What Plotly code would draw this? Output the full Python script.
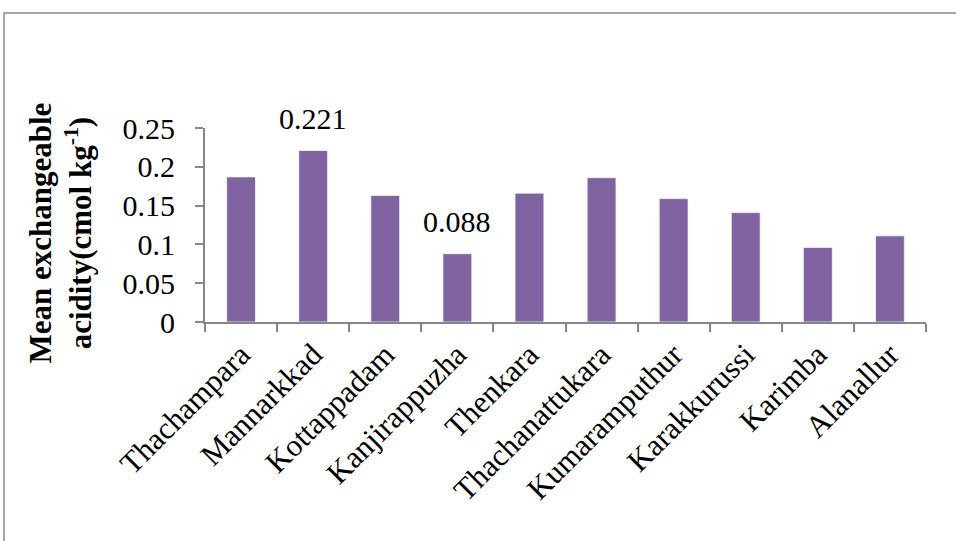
import plotly.graph_objects as go

categories = ["Thachampara", "Mannarkkad", "Kottappadam", "Kanjirappuzha", "Thenkara",
              "Thachanattukara", "Kumaramputhur", "Karakkurussi", "Karimba", "Alanallur"]
values = [0.187, 0.221, 0.163, 0.088, 0.166, 0.186, 0.159, 0.141, 0.096, 0.111]
labelled = ["Mannarkkad", "Kanjirappuzha"]
y_title = "<b>Mean exchangeable<br>acidity(cmol kg<sup>-1</sup>)</b>"

FONT = "Liberation Serif"
AXIS_COLOR = "#868686"

fig = go.Figure()
fig.add_trace(go.Bar(
    x=categories, y=values, width=0.4,
    marker=dict(color="#8064A2", line=dict(color="rgba(255,255,255,0.7)", width=1)),
    showlegend=False, hoverinfo="skip",
))

annotations = []
for c, v in zip(categories, values):
    if c in labelled:
        annotations.append(dict(x=c, y=v, xref="x", yref="y", text=f"{v:.3f}",
                                showarrow=False, yanchor="bottom", yshift=14,
                                font=dict(family=FONT, size=30, color="black")))
annotations.append(dict(x=-0.2, y=0.46, xref="paper", yref="paper", text=y_title,
                        textangle=-90, showarrow=False, xanchor="center", yanchor="middle",
                        font=dict(family=FONT, size=31, color="black")))

fig.update_layout(
    width=956, height=541,
    margin=dict(l=205, r=30, t=128, b=219, autoexpand=False),
    paper_bgcolor="white", plot_bgcolor="white",
    font=dict(family=FONT, size=28, color="black"),
    annotations=annotations,
    shapes=[dict(type="rect", xref="paper", yref="paper", x0=-0.2788, x1=1.2,
                 y0=-1.6, y1=1.5928, line=dict(color="#8a8a8a", width=1.5),
                 fillcolor="rgba(0,0,0,0)", layer="below")],
    bargap=0.6,
)
fig.update_xaxes(
    showline=True, linecolor=AXIS_COLOR, linewidth=2,
    ticks="outside", tickson="boundaries", ticklen=8, tickcolor=AXIS_COLOR, tickwidth=2,
    tickangle=-45, showgrid=False, tickfont=dict(family=FONT, size=31, color="black"),
)
fig.update_yaxes(
    range=[0, 0.25], dtick=0.05, tick0=0,
    showline=True, linecolor=AXIS_COLOR, linewidth=2,
    ticks="outside", ticklen=8, tickcolor=AXIS_COLOR, tickwidth=2,
    showgrid=False, zeroline=False, ticklabelstandoff=14,
    tickfont=dict(family=FONT, size=30, color="black"),
)

fig.write_html("out.html")
